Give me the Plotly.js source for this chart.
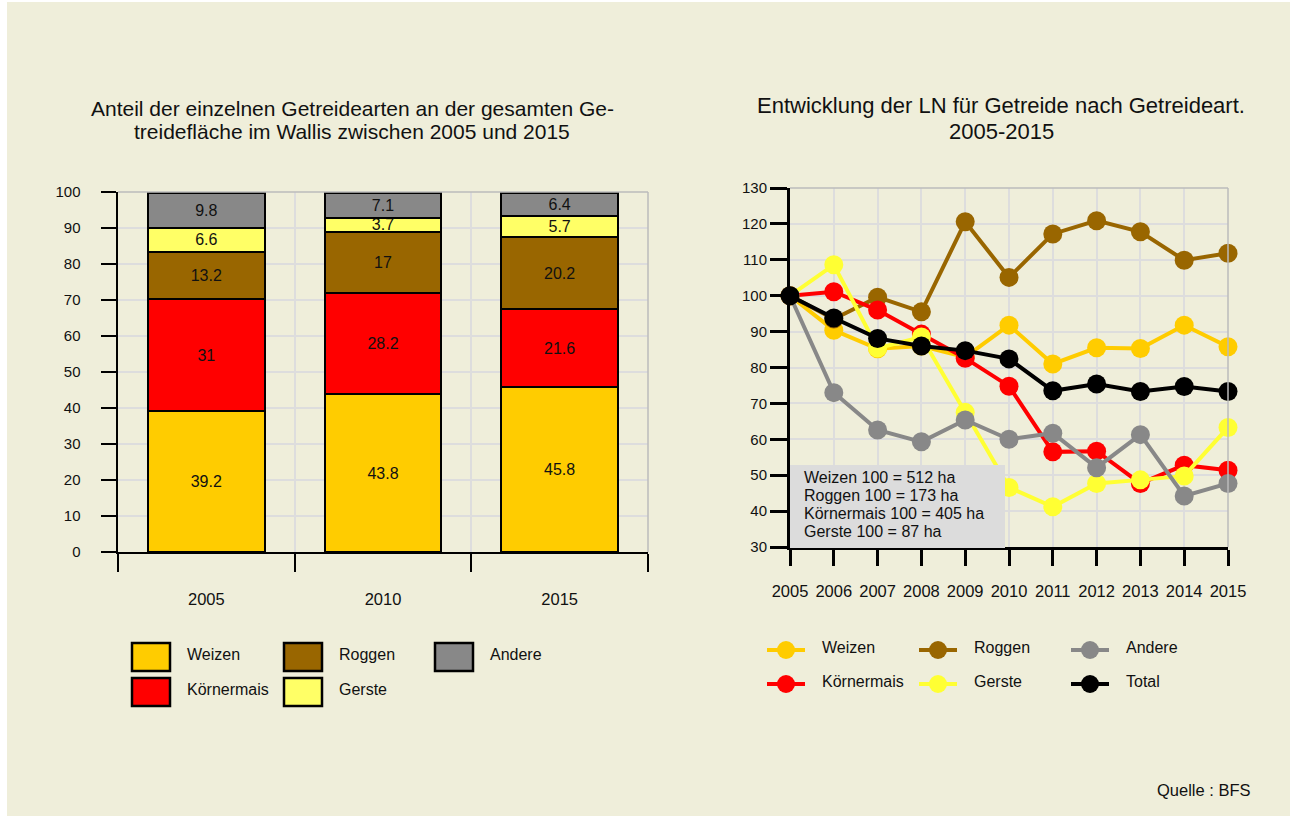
<!DOCTYPE html>
<html><head><meta charset="utf-8">
<script src="https://cdn.plot.ly/plotly-3.0.1.min.js"></script>
<style>html,body{margin:0;padding:0;background:#fff}#c{width:1294px;height:818px}</style>
</head><body><div id="c"></div><script>
// ---- data: left chart (shares in %) ----
const barYears = ['2005', '2010', '2015'];
const weizenShare = [39.2, 43.8, 45.8];
const koernermaisShare = [31, 28.2, 21.6];
const roggenShare = [13.2, 17, 20.2];
const gersteShare = [6.6, 3.7, 5.7];
const andereShare = [9.8, 7.1, 6.4];

// ---- data: right chart (index 2005 = 100) ----
const lineYears = [2005, 2006, 2007, 2008, 2009, 2010, 2011, 2012, 2013, 2014, 2015];
const weizenIdx = [100, 90.4, 85.2, 86, 82.9, 91.8, 81, 85.5, 85.3, 91.8, 85.8];
const roggenIdx = [100, 93.5, 99.6, 95.5, 120.6, 105.1, 117.2, 120.9, 117.8, 109.9, 111.8];
const koernermaisIdx = [100, 101.1, 96, 89.3, 82.6, 74.8, 56.5, 56.7, 47.7, 52.8, 51.4];
const gersteIdx = [100, 108.6, 85.4, 88.5, 67.5, 46.6, 41.2, 47.7, 48.7, 49.8, 63.3];
const andereIdx = [100, 73, 62.6, 59.3, 65.4, 60, 61.7, 52.1, 61.3, 44.2, 47.7];
const totalIdx = [100, 93.8, 88.1, 86, 84.7, 82.4, 73.5, 75.4, 73.3, 74.7, 73.3];

const barNames = ['Weizen', 'Körnermais', 'Roggen', 'Gerste', 'Andere'];
const barColors = ['#FFCC00', '#FF0000', '#996600', '#FFFF66', '#888888'];
const barValues = [weizenShare, koernermaisShare, roggenShare, gersteShare, andereShare];

const lineNames = ['Weizen', 'Roggen', 'Körnermais', 'Gerste', 'Andere', 'Total'];
const lineColors = ['#FFCC00', '#996600', '#FF0000', '#FFFF33', '#888888', '#000000'];
const lineValues = [weizenIdx, roggenIdx, koernermaisIdx, gersteIdx, andereIdx, totalIdx];

const noteLines = ['Weizen 100 = 512 ha', 'Roggen 100 = 173 ha', 'Körnermais 100 = 405 ha', 'Gerste 100 = 87 ha'];
const leftTitle = ['Anteil der einzelnen Getreidearten an der gesamten Ge-', 'treidefläche im Wallis zwischen 2005 und 2015'];
const rightTitle = ['Entwicklung der LN für Getreide nach Getreideart.', '2005-2015'];

const W = 1294, H = 818;
const px = x => x / W;
const py = y => 1 - y / H;
const FONT = 'Liberation Sans, Arial, sans-serif';

const traces = [];
barNames.forEach((n, i) => {
  traces.push({
    type: 'bar', name: n, x: barYears, y: barValues[i],
    xaxis: 'x', yaxis: 'y', width: 0.66,
    marker: {color: barColors[i], line: {color: '#000', width: 2}},
    text: barValues[i].map(String), textposition: 'inside', insidetextanchor: 'middle',
    constraintext: 'none', textangle: 0,
    textfont: {size: 16, color: '#111', family: FONT},
    cliponaxis: false, hoverinfo: 'skip', showlegend: false
  });
});
lineNames.forEach((n, i) => {
  traces.push({
    type: 'scatter', mode: 'lines+markers', name: n, x: lineYears, y: lineValues[i],
    xaxis: 'x2', yaxis: 'y2',
    line: {color: lineColors[i], width: 4},
    marker: {color: lineColors[i], size: 19},
    cliponaxis: false, hoverinfo: 'skip', showlegend: false
  });
});

const shapes = [];
const annotations = [];

// plot borders (top/right)
shapes.push({type: 'line', xref: 'paper', yref: 'paper', x0: px(118), x1: px(648), y0: py(192), y1: py(192), line: {color: '#BBBBBB', width: 1.5}});
shapes.push({type: 'line', xref: 'paper', yref: 'paper', x0: px(648), x1: px(648), y0: py(192), y1: py(552), line: {color: '#BBBBBB', width: 1.5}});
shapes.push({type: 'line', xref: 'paper', yref: 'paper', x0: px(790), x1: px(1228), y0: py(188), y1: py(188), line: {color: '#BBBBBB', width: 1.5}});
shapes.push({type: 'line', xref: 'paper', yref: 'paper', x0: px(1228), x1: px(1228), y0: py(188), y1: py(547), line: {color: '#BBBBBB', width: 1.5}});

// note box
shapes.push({type: 'rect', xref: 'paper', yref: 'paper', layer: 'above', x0: px(790), x1: px(1005), y0: py(548), y1: py(465), fillcolor: '#DCDCDC', line: {width: 0}});
noteLines.forEach((t, i) => {
  annotations.push({xref: 'paper', yref: 'paper', x: px(802), y: py(477 + i * 18), xanchor: 'left', yanchor: 'middle', showarrow: false, text: t, font: {size: 16, color: '#111', family: FONT}});
});

// left legend
const legBoxPos = [[132, 643], [132, 678], [284, 643], [284, 678], [435, 643]];
const legOrder = [0, 1, 2, 3, 4]; // Weizen, Körnermais, Roggen, Gerste, Andere
legOrder.forEach((k, i) => {
  const [bx, by] = legBoxPos[i];
  shapes.push({type: 'rect', xref: 'paper', yref: 'paper', x0: px(bx), x1: px(bx + 38), y0: py(by + 28), y1: py(by), fillcolor: barColors[k], line: {color: '#000', width: 2.5}});
  annotations.push({xref: 'paper', yref: 'paper', x: px(bx + 53), y: py(by + 11), xanchor: 'left', yanchor: 'middle', showarrow: false, text: barNames[k], font: {size: 16, color: '#111', family: FONT}});
});

// right legend
const legLinePos = [[767, 650], [919, 650], [1071, 650], [767, 684], [919, 684], [1071, 684]];
const legLineOrder = [0, 1, 4, 2, 3, 5]; // Weizen, Roggen, Andere / Körnermais, Gerste, Total
legLineOrder.forEach((k, i) => {
  const [lx, ly] = legLinePos[i];
  shapes.push({type: 'line', xref: 'paper', yref: 'paper', x0: px(lx), x1: px(lx + 38), y0: py(ly), y1: py(ly), line: {color: lineColors[k], width: 4}});
  shapes.push({type: 'circle', xref: 'paper', yref: 'paper', xsizemode: 'pixel', ysizemode: 'pixel', xanchor: px(lx + 19), yanchor: py(ly), x0: -9, x1: 9, y0: -9, y1: 9, fillcolor: lineColors[k], line: {width: 0}});
  annotations.push({xref: 'paper', yref: 'paper', x: px(lx + 53), y: py(ly - 3), xanchor: 'left', yanchor: 'middle', showarrow: false, text: lineNames[k], font: {size: 16, color: '#111', family: FONT}});
});

// titles
leftTitle.forEach((t, i) => {
  annotations.push({xref: 'paper', yref: 'paper', x: px(352), y: py(108 + i * 24), xanchor: 'center', yanchor: 'middle', showarrow: false,
    text: t, font: {size: 21, color: '#111', family: FONT}});
});
rightTitle.forEach((t, i) => {
  annotations.push({xref: 'paper', yref: 'paper', x: px(1001), y: py(106 + i * 25), xanchor: 'center', yanchor: 'middle', showarrow: false,
    text: t, font: {size: 22, color: '#111', family: FONT}});
});
annotations.push({xref: 'paper', yref: 'paper', x: px(1253), y: py(790), xanchor: 'right', yanchor: 'middle', showarrow: false,
  text: 'Quelle : BFS', font: {size: 16.5, color: '#111', family: FONT}});

// white frame edges
[[0, 7, 0, H], [0, W, 0, 2], [W - 4, W, 0, H], [0, W, H - 2, H]].forEach(([a, b, c, d]) => {
  shapes.push({type: 'rect', xref: 'paper', yref: 'paper', layer: 'above', x0: px(a), x1: px(b), y0: py(d), y1: py(c), fillcolor: '#FFFFFF', line: {width: 0}});
});

const gridc = '#DDDDDD';
const layout = {
  width: W, height: H,
  margin: {l: 0, r: 0, t: 0, b: 0},
  paper_bgcolor: '#EFEEDA', plot_bgcolor: 'rgba(0,0,0,0)',
  font: {family: FONT, size: 16, color: '#111'},
  barmode: 'stack', showlegend: false,
  xaxis: {domain: [px(118), px(648)], type: 'category', range: [-0.5, 2.5], anchor: 'y',
    tickson: 'boundaries', ticks: 'outside', ticklen: 18, tickwidth: 2, tickcolor: '#000',
    showline: true, linecolor: '#000', linewidth: 2, showgrid: true, gridcolor: gridc, gridwidth: 2,
    ticklabelstandoff: 31, tickfont: {size: 16.5}, fixedrange: true},
  yaxis: {domain: [py(552), py(192)], range: [0, 100], dtick: 10, anchor: 'x',
    ticks: 'outside', ticklen: 15, tickwidth: 2.5, tickcolor: '#000',
    showline: true, linecolor: '#000', linewidth: 2.5, showgrid: true, gridcolor: gridc, gridwidth: 2,
    zeroline: false, ticklabelstandoff: 17, tickfont: {size: 15}, fixedrange: true},
  xaxis2: {domain: [px(790), px(1228)], range: [2005, 2015], dtick: 1, tick0: 2005, anchor: 'y2',
    ticks: 'outside', ticklen: 16, tickwidth: 3, tickcolor: '#000',
    showline: true, linecolor: '#000', linewidth: 3, showgrid: true, gridcolor: gridc, gridwidth: 2,
    zeroline: false, ticklabelstandoff: 11, tickfont: {size: 16.5}, fixedrange: true},
  yaxis2: {domain: [py(547), py(188)], range: [30, 130], dtick: 10, anchor: 'x2',
    ticks: 'outside', ticklen: 17, tickwidth: 3, tickcolor: '#000',
    showline: true, linecolor: '#000', linewidth: 3, showgrid: true, gridcolor: gridc, gridwidth: 2,
    zeroline: false, ticklabelstandoff: 0, tickfont: {size: 15}, fixedrange: true},
  shapes: shapes, annotations: annotations
};
Plotly.newPlot('c', traces, layout, {displayModeBar: false, staticPlot: true});
</script></body></html>
